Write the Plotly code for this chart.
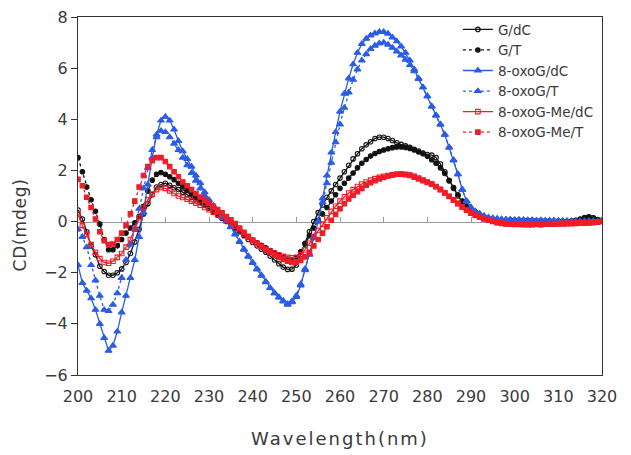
import plotly.graph_objects as go

# CD spectra, 200-320 nm at 1 nm steps
wavelength = list(range(200, 321))

g_dc = [
    0.45, 0.1, -0.4, -0.95, -1.3, -1.75, -1.95, -2.1, -2.1, -2.0,
    -1.85, -1.6, -1.25, -0.8, -0.3, 0.3, 0.7, 1.05, 1.35, 1.45,
    1.5, 1.42, 1.32, 1.25, 1.15, 1.05, 0.95, 0.85, 0.75, 0.65,
    0.55, 0.45, 0.32, 0.2, 0.05, -0.1, -0.25, -0.4, -0.55, -0.7,
    -0.82, -0.95, -1.08, -1.2, -1.35, -1.5, -1.65, -1.78, -1.87, -1.86,
    -1.7, -1.3, -0.85, -0.4, 0.0, 0.35, 0.65, 0.95, 1.2, 1.45,
    1.7, 1.95, 2.2, 2.45, 2.65, 2.85, 3.0, 3.12, 3.25, 3.3,
    3.3, 3.25, 3.17, 3.08, 3.02, 2.96, 2.9, 2.83, 2.76, 2.68,
    2.62, 2.6, 2.5, 2.25, 1.95, 1.6, 1.3, 1.0, 0.78, 0.6,
    0.45, 0.33, 0.23, 0.15, 0.1, 0.07, 0.05, 0.04, 0.05, 0.06,
    0.05, 0.04, 0.05, 0.03, 0.04, 0.03, 0.02, 0.03, 0.02, 0.01,
    0.02, 0.0, 0.01, 0.02, 0.05, 0.1, 0.16, 0.19, 0.15, 0.08,
    0.05,
]

g_t = [
    2.5, 1.95, 1.35, 0.85, 0.4, -0.1, -0.7, -1.1, -1.1, -0.95,
    -0.7, -0.45, -0.25, -0.05, 0.2, 0.6, 1.2, 1.62, 1.85, 1.92,
    1.85, 1.75, 1.64, 1.5, 1.36, 1.22, 1.08, 0.94, 0.8, 0.66,
    0.52, 0.38, 0.25, 0.12, 0.0, -0.12, -0.24, -0.36, -0.48, -0.6,
    -0.72, -0.83, -0.93, -1.03, -1.13, -1.23, -1.32, -1.4, -1.47, -1.5,
    -1.42, -1.18, -0.88, -0.55, -0.25, 0.05, 0.3, 0.55, 0.8, 1.05,
    1.3, 1.5, 1.7, 1.9, 2.1, 2.28, 2.43, 2.56, 2.66, 2.74,
    2.8, 2.85, 2.89, 2.92, 2.92, 2.9, 2.86, 2.8, 2.72, 2.65,
    2.55, 2.42, 2.28, 2.1, 1.88, 1.6, 1.33, 1.05, 0.8, 0.6,
    0.45, 0.33, 0.23, 0.15, 0.1, 0.06, 0.04, 0.03, 0.04, 0.05,
    0.04, 0.05, 0.03, 0.04, 0.02, 0.03, 0.02, 0.01, 0.02, 0.01,
    0.0, 0.01, 0.0, 0.02, 0.04, 0.08, 0.13, 0.17, 0.14, 0.07,
    0.04,
]

oxog_dc = [
    -1.7, -2.4, -2.7, -3.0, -3.45, -4.0, -4.55, -5.05, -4.85, -4.3,
    -3.55, -2.9, -2.2, -1.5, -0.6, 0.35, 1.45, 2.5, 3.4, 3.95,
    4.1, 3.95, 3.6, 3.15, 2.75, 2.45, 2.15, 1.8, 1.5, 1.15,
    0.85, 0.62, 0.42, 0.22, 0.02, -0.2, -0.48, -0.78, -1.08, -1.35,
    -1.6, -1.85, -2.1, -2.35, -2.6, -2.8, -2.97, -3.12, -3.25, -3.15,
    -2.95, -2.5, -1.9, -1.3, -0.65, 0.0, 0.9, 1.8, 2.7, 3.5,
    4.3, 5.0, 5.6, 6.15, 6.6, 6.95, 7.15, 7.28, 7.36, 7.42,
    7.42, 7.35, 7.2, 7.05, 6.85, 6.6, 6.3, 5.95, 5.6, 5.25,
    4.9, 4.5, 4.15, 3.8, 3.4, 2.9, 2.4, 1.85, 1.25, 0.8,
    0.55, 0.4, 0.3, 0.2, 0.15, 0.12, 0.1, 0.08, 0.08, 0.07,
    0.06, 0.07, 0.05, 0.06, 0.05, 0.04, 0.05, 0.03, 0.04, 0.03,
    0.02, 0.03, 0.01, 0.02, 0.0, 0.01, 0.02, 0.03, 0.01, 0.0,
    0.0,
]

oxog_t = [
    -0.3, -0.6, -1.0, -1.7, -2.3, -2.9, -3.45, -3.5, -3.25, -2.8,
    -2.2, -1.5, -0.9, -0.3, 0.5, 1.3, 2.1, 2.8, 3.3, 3.55,
    3.5, 3.3, 3.05, 2.8, 2.5, 2.2, 1.9, 1.6, 1.3, 1.0,
    0.75, 0.55, 0.36, 0.18, 0.0, -0.22, -0.5, -0.8, -1.1, -1.37,
    -1.62, -1.87, -2.12, -2.37, -2.6, -2.8, -2.96, -3.1, -3.22, -3.12,
    -2.9, -2.45, -1.85, -1.25, -0.6, 0.0, 0.75, 1.5, 2.3, 3.1,
    3.8, 4.45, 5.05, 5.55, 5.95, 6.3, 6.55, 6.75, 6.88, 6.97,
    7.0, 6.92, 6.8, 6.65, 6.5, 6.33, 6.12, 5.88, 5.58, 5.25,
    4.9, 4.5, 4.15, 3.8, 3.4, 2.9, 2.4, 1.85, 1.25, 0.8,
    0.55, 0.4, 0.3, 0.22, 0.16, 0.13, 0.11, 0.09, 0.08, 0.08,
    0.07, 0.06, 0.07, 0.05, 0.06, 0.04, 0.05, 0.04, 0.03, 0.04,
    0.03, 0.02, 0.03, 0.01, 0.02, 0.0, 0.01, 0.02, 0.02, 0.01,
    0.01,
]

oxog_me_dc = [
    0.3, -0.15, -0.5, -0.9, -1.2, -1.45, -1.6, -1.63, -1.55, -1.4,
    -1.25, -1.0, -0.7, -0.3, 0.15, 0.55, 0.85, 1.08, 1.25, 1.33,
    1.3, 1.2, 1.1, 1.0, 0.94, 0.87, 0.8, 0.72, 0.64, 0.55,
    0.46, 0.37, 0.27, 0.17, 0.06, -0.05, -0.18, -0.32, -0.48, -0.62,
    -0.75, -0.86, -0.97, -1.07, -1.15, -1.23, -1.3, -1.36, -1.4, -1.42,
    -1.4, -1.3, -1.1, -0.85, -0.6, -0.35, -0.1, 0.15, 0.4, 0.6,
    0.8, 0.97, 1.12, 1.25, 1.37, 1.47, 1.55, 1.62, 1.68, 1.73,
    1.77, 1.8, 1.83, 1.85, 1.85, 1.83, 1.8, 1.74, 1.67, 1.6,
    1.53, 1.46, 1.36, 1.25, 1.12, 0.98, 0.84, 0.7, 0.56, 0.44,
    0.33, 0.24, 0.17, 0.1, 0.05, 0.0, -0.04, -0.07, -0.09, -0.1,
    -0.1, -0.11, -0.1, -0.12, -0.11, -0.1, -0.12, -0.1, -0.09, -0.1,
    -0.08, -0.09, -0.07, -0.08, -0.06, -0.05, -0.06, -0.04, -0.03, -0.02,
    0.0,
]

oxog_me_t = [
    1.65, 1.4, 0.95, 0.55, 0.1, -0.4, -0.75, -0.9, -0.88, -0.7,
    -0.45, -0.15, 0.3, 0.8, 1.35, 1.8, 2.15, 2.38, 2.5, 2.5,
    2.35, 2.15, 1.95, 1.75, 1.55, 1.4, 1.25, 1.1, 0.96, 0.84,
    0.72, 0.6, 0.47, 0.34, 0.2, 0.07, -0.08, -0.25, -0.42, -0.58,
    -0.72, -0.85, -0.98, -1.1, -1.2, -1.3, -1.4, -1.48, -1.55, -1.6,
    -1.6, -1.52, -1.38, -1.2, -0.95, -0.7, -0.45, -0.2, 0.05, 0.28,
    0.5, 0.7, 0.88, 1.03, 1.17, 1.3, 1.42, 1.52, 1.6, 1.67,
    1.73, 1.78, 1.82, 1.85, 1.86, 1.85, 1.82, 1.77, 1.7, 1.62,
    1.55, 1.47, 1.37, 1.26, 1.13, 0.99, 0.85, 0.71, 0.57, 0.45,
    0.34, 0.25, 0.17, 0.11, 0.06, 0.01, -0.03, -0.06, -0.08, -0.1,
    -0.11, -0.1, -0.12, -0.11, -0.12, -0.1, -0.11, -0.1, -0.1, -0.08,
    -0.09, -0.07, -0.08, -0.06, -0.07, -0.05, -0.04, -0.05, -0.03, -0.01,
    0.01,
]

BLACK = "#111111"
BLUE = "#2a5ce8"
RED = "#f01c28"
TEXT = "#3a3a3a"
FONT = "DejaVu Sans, sans-serif"

# name, values, colour, dash, marker symbol, marker size
series = [
    ("G/dC", g_dc, BLACK, "solid", "circle-open", 4.5),
    ("G/T", g_t, BLACK, "dot", "circle", 4.5),
    ("8-oxoG/dC", oxog_dc, BLUE, "solid", "triangle-up", 6),
    ("8-oxoG/T", oxog_t, BLUE, "dot", "triangle-up", 6),
    ("8-oxoG-Me/dC", oxog_me_dc, RED, "solid", "square-open", 4.5),
    ("8-oxoG-Me/T", oxog_me_t, RED, "dot", "square", 4.5),
]

fig = go.Figure()

# zero line with its small upward ticks lives on an overlaid axis
fig.add_trace(go.Scatter(x=[], y=[], xaxis="x2", showlegend=False, hoverinfo="skip"))

for name, ys, color, dash, symbol, size in series:
    fig.add_trace(
        go.Scatter(
            x=wavelength,
            y=ys,
            name=name,
            mode="lines+markers",
            line=dict(color=color, width=1.3, dash=dash),
            marker=dict(symbol=symbol, size=size, color=color, line=dict(width=1.1, color=color)),
        )
    )

fig.update_layout(
    width=631,
    height=455,
    margin=dict(l=78, r=29, t=17, b=80, autoexpand=False),
    paper_bgcolor="white",
    plot_bgcolor="white",
    font=dict(family=FONT, size=16, color=TEXT),
    showlegend=True,
    legend=dict(
        x=0.725,
        y=1.008,
        xanchor="left",
        yanchor="top",
        bgcolor="rgba(0,0,0,0)",
        font=dict(size=13.5, color=TEXT),
        tracegroupgap=0,
    ),
    xaxis=dict(
        range=[200, 320],
        tick0=200,
        dtick=10,
        ticks="",
        showgrid=False,
        zeroline=False,
        showline=True,
        mirror=True,
        linecolor="#333333",
        linewidth=1,
        automargin=False,
        ticklabelstandoff=7,
        tickfont=dict(size=16),
        title=dict(
            text="<span style='letter-spacing:2px'>Wavelength(nm)</span>",
            font=dict(size=18),
            standoff=27,
        ),
    ),
    xaxis2=dict(
        overlaying="x",
        anchor="free",
        position=6 / 14,
        range=[200, 320],
        tickvals=list(range(210, 320, 10)),
        ticks="inside",
        ticklen=5,
        tickcolor="#999999",
        showticklabels=False,
        showgrid=False,
        zeroline=False,
        showline=True,
        linecolor="#999999",
        linewidth=1,
        layer="below traces",
    ),
    yaxis=dict(
        range=[-6, 8],
        tick0=-6,
        dtick=2,
        ticks="outside",
        ticklen=6,
        tickcolor="#333333",
        showgrid=False,
        zeroline=False,
        showline=True,
        mirror=True,
        linecolor="#333333",
        linewidth=1,
        automargin=False,
        tickfont=dict(size=16),
    ),
    annotations=[
        dict(
            text="<span style='letter-spacing:0.8px'>CD(mdeg)</span>",
            xref="paper",
            yref="paper",
            x=-0.111,
            y=0.42,
            xanchor="center",
            yanchor="middle",
            textangle=-90,
            showarrow=False,
            font=dict(size=17, color=TEXT),
        )
    ],
)

# drop the default 8 px page margin so the figure sits at the window origin
fig.write_html(
    "out.html",
    config={"displayModeBar": False},
    post_script="document.body.style.margin = '0';",
)
